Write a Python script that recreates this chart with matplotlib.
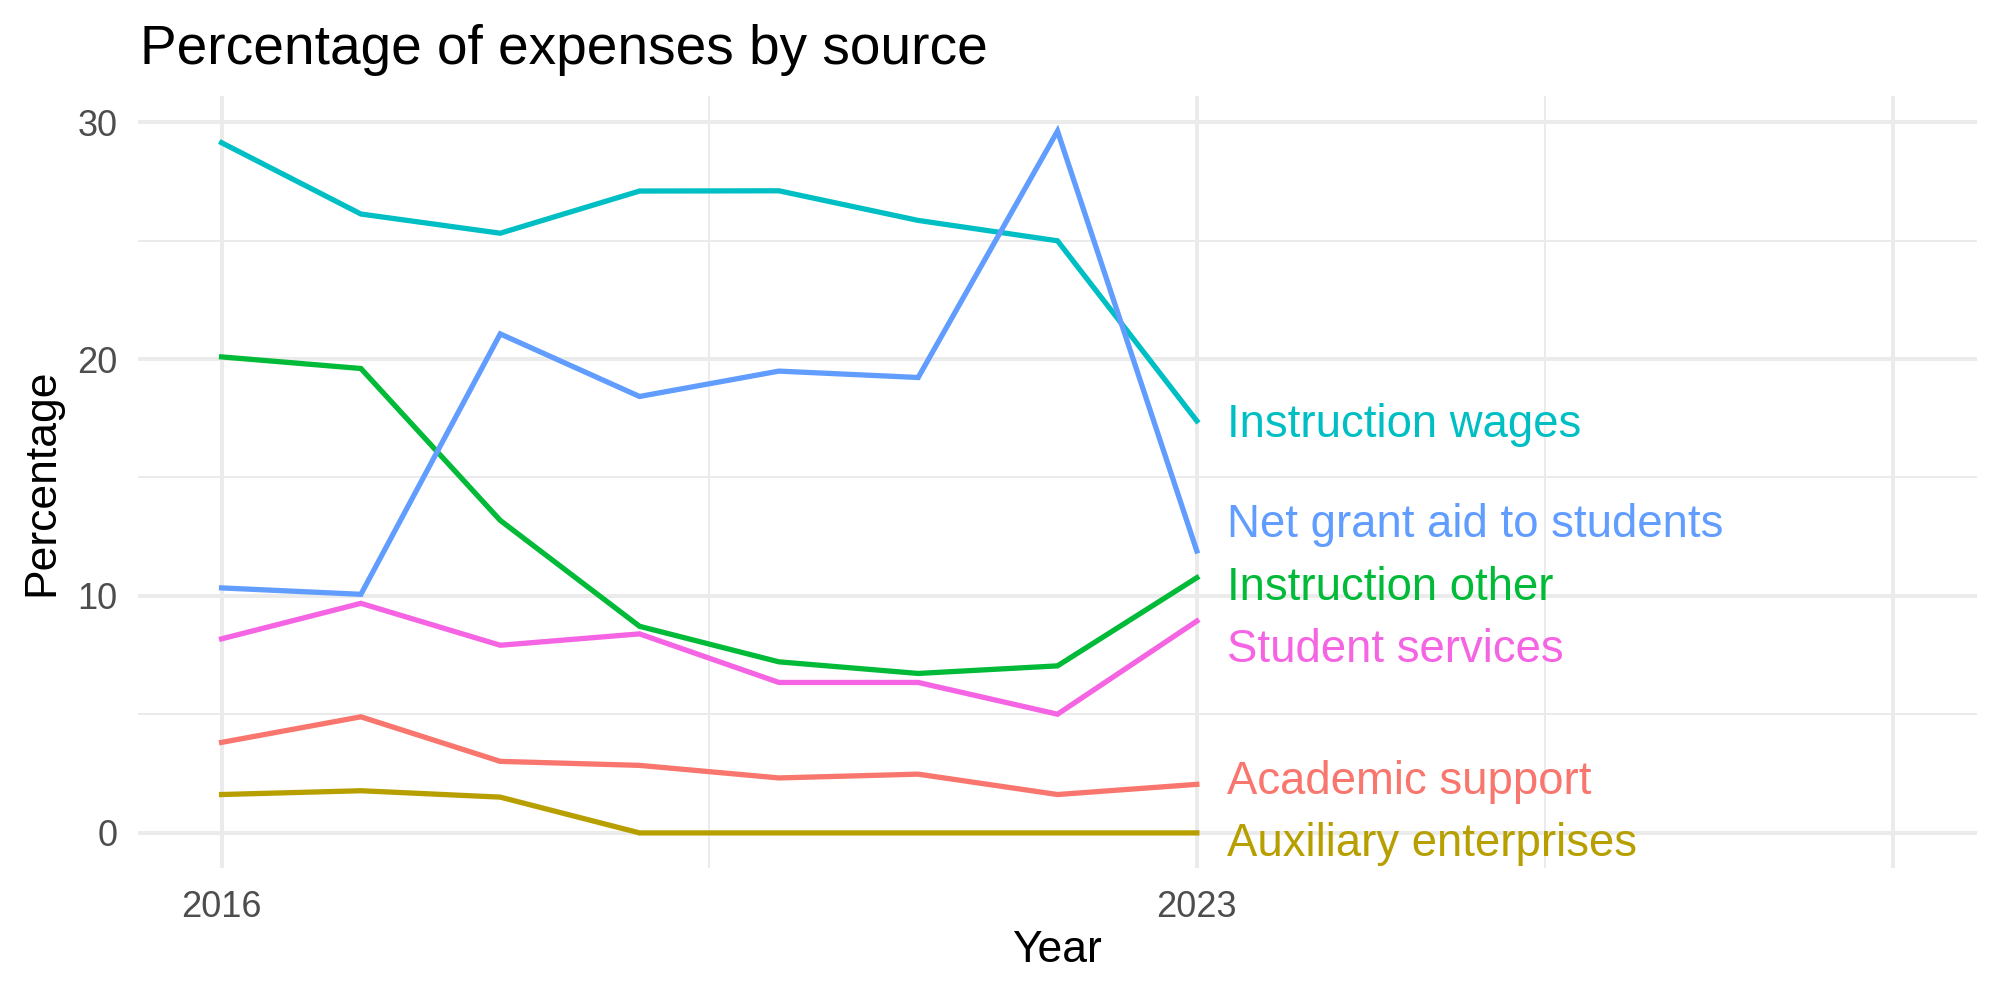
"""Percentage of expenses by source, direct-labelled line chart."""

import matplotlib

matplotlib.use("Agg")
import matplotlib.pyplot as plt
import matplotlib.transforms as mtransforms
import numpy as np

# --- data -----------------------------------------------------------------
years = [2016, 2017, 2018, 2019, 2020, 2021, 2022, 2023]

academic_support = [3.82, 4.90, 3.02, 2.85, 2.32, 2.48, 1.62, 2.05]
auxiliary_enterprises = [1.62, 1.78, 1.51, 0.0, 0.0, 0.0, 0.0, 0.0]
instruction_other = [20.09, 19.60, 13.19, 8.72, 7.22, 6.73, 7.05, 10.77]
instruction_wages = [29.13, 26.12, 25.31, 27.09, 27.10, 25.85, 24.99, 17.39]
net_grant_aid = [10.34, 10.07, 21.06, 18.42, 19.49, 19.22, 29.62, 11.90]
student_services = [8.19, 9.69, 7.92, 8.40, 6.35, 6.35, 5.01, 8.94]

series_names = [
    "Academic support",
    "Auxiliary enterprises",
    "Instruction other",
    "Instruction wages",
    "Net grant aid to students",
    "Student services",
]
series_values = [
    academic_support,
    auxiliary_enterprises,
    instruction_other,
    instruction_wages,
    net_grant_aid,
    student_services,
]
# ggplot2 default hue palette for six groups
colors = ["#F8766D", "#B79F00", "#00BA38", "#00BFC4", "#619CFF", "#F564E3"]

x_major = [2016, 2023, 2028]
x_major_labels = ["2016", "2023", ""]
x_minor = [2019.5, 2025.5]
y_major = [0, 10, 20, 30]
y_minor = [5, 15, 25]


def spread_labels(values, gap):
    """Push label positions apart so they keep at least `gap` between them."""
    values = np.asarray(values, dtype=float)
    order = np.argsort(values)
    pos = values[order].copy()
    for _ in range(200):
        moved = False
        for i in range(1, len(pos)):
            d = pos[i] - pos[i - 1]
            if d < gap - 1e-9:
                shift = (gap - d) / 2
                pos[i] += shift
                pos[i - 1] -= shift
                moved = True
        if not moved:
            break
    out = np.empty_like(pos)
    out[order] = pos
    return out


plt.rcParams["font.family"] = ["Liberation Sans", "DejaVu Sans"]

fig = plt.figure(figsize=(10, 5), dpi=200)
ax = fig.add_axes([0.069, 0.132, 0.9195, 0.772])

for name, vals, col in zip(series_names, series_values, colors):
    ax.plot(years, vals, color=col, linewidth=1.9, solid_joinstyle="miter", zorder=3)

end_values = [v[-1] for v in series_values]
label_y = spread_labels(end_values, 2.65)
# nudge labels down a touch so the glyph centre (not the descender box) sits on y
label_tf = ax.transData + mtransforms.ScaledTranslation(0, -1.6 / 72, fig.dpi_scale_trans)
for name, y, col in zip(series_names, label_y, colors):
    ax.text(years[-1] + 0.22, y, name, color=col, fontsize=16.4,
            ha="left", va="center", transform=label_tf, zorder=4)

ax.set_xlim(2016 - 0.6, 2028 + 0.6)
ax.margins(y=0.05)

ax.set_xticks(x_major)
ax.set_xticklabels(x_major_labels)
ax.set_xticks(x_minor, minor=True)
ax.set_yticks(y_major)
ax.set_yticks(y_minor, minor=True)

ax.grid(which="major", color="#EBEBEB", linewidth=1.42, zorder=0)
ax.grid(which="minor", color="#EBEBEB", linewidth=0.71, zorder=0)
ax.set_axisbelow(True)
for spine in ax.spines.values():
    spine.set_visible(False)
ax.tick_params(which="both", length=0)
ax.tick_params(axis="x", labelsize=13, labelcolor="#4D4D4D", pad=8)
ax.tick_params(axis="y", labelsize=13, labelcolor="#4D4D4D", pad=7.5)

fig.text(0.07, 0.936, "Percentage of expenses by source", fontsize=19.8,
         ha="left", va="baseline")
fig.text(0.5287, 0.049, "Year", fontsize=16, ha="center", va="center")
fig.text(0.021, 0.518, "Percentage", fontsize=16, ha="center", va="center",
         rotation=90)

fig.savefig("out.png", dpi=200, facecolor="white")
plt.close(fig)
